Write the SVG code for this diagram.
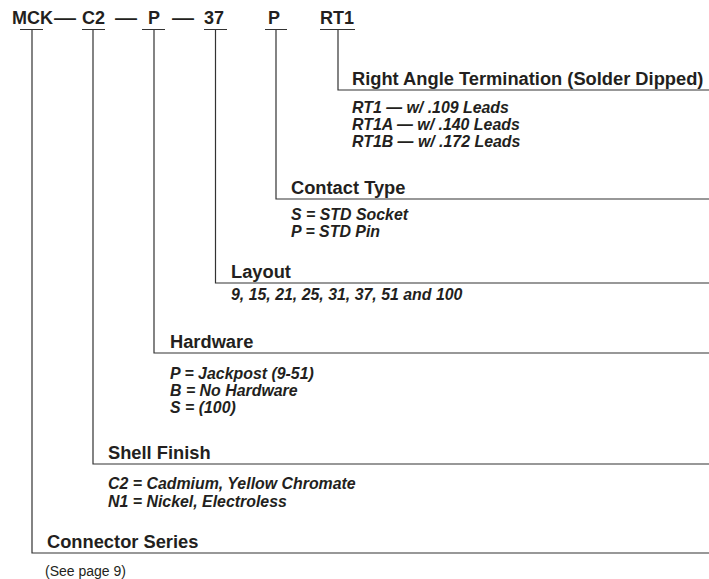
<svg xmlns="http://www.w3.org/2000/svg" width="709" height="579" viewBox="0 0 709 579">
<style>
.hd{font-family:"Liberation Sans",Arial,sans-serif;font-weight:bold;font-size:18px;fill:#231f20}
.tt{font-family:"Liberation Sans",Arial,sans-serif;font-weight:bold;font-size:18.3px;fill:#231f20}
.it{font-family:"Liberation Sans",Arial,sans-serif;font-weight:bold;font-style:italic;font-size:15.9px;fill:#231f20}
.rg{font-family:"Liberation Sans",Arial,sans-serif;font-size:14px;fill:#231f20}
.ln{fill:none;stroke:#333333;stroke-width:1.2}
</style>
<rect width="709" height="579" fill="#ffffff"/>
<g id="header">
<text class="hd" x="12" y="24">MCK</text>
<text class="hd" x="54" y="24" textLength="22" lengthAdjust="spacingAndGlyphs">—</text>
<text class="hd" x="82" y="24">C2</text>
<text class="hd" x="115" y="24" textLength="22" lengthAdjust="spacingAndGlyphs">—</text>
<text class="hd" x="148" y="24">P</text>
<text class="hd" x="172" y="24" textLength="22" lengthAdjust="spacingAndGlyphs">—</text>
<text class="hd" x="204" y="24">37</text>
<text class="hd" x="268" y="24">P</text>
<text class="hd" x="320" y="24">RT1</text>
</g>
<g id="connectors">
<path class="ln" d="M20,29.5H43M32,29.5V553H709"/>
<path class="ln" d="M82,29.5H105M93,29.5V464H709"/>
<path class="ln" d="M142,29.5H165M154,29.5V353H709"/>
<path class="ln" d="M204,29.5H227M215.5,29.5V283H709"/>
<path class="ln" d="M265,29.5H287M276,29.5V199H709"/>
<path class="ln" d="M320,29.5H355M338,29.5V90H709"/>
</g>
<g id="termination">
<text class="tt" x="352" y="85">Right Angle Termination (Solder Dipped)</text>
<text class="it" x="352" y="113">RT1 — w/ .109 Leads</text>
<text class="it" x="352" y="130">RT1A — w/ .140 Leads</text>
<text class="it" x="352" y="147">RT1B — w/ .172 Leads</text>
</g>
<g id="contact-type">
<text class="tt" x="291" y="194">Contact Type</text>
<text class="it" x="291" y="220">S = STD Socket</text>
<text class="it" x="291" y="237">P = STD Pin</text>
</g>
<g id="layout">
<text class="tt" x="231" y="278">Layout</text>
<text class="it" x="231" y="300">9, 15, 21, 25, 31, 37, 51 and 100</text>
</g>
<g id="hardware">
<text class="tt" x="170" y="348">Hardware</text>
<text class="it" x="170" y="379">P = Jackpost (9-51)</text>
<text class="it" x="170" y="396">B = No Hardware</text>
<text class="it" x="170" y="413">S = (100)</text>
</g>
<g id="shell-finish">
<text class="tt" x="108" y="459">Shell Finish</text>
<text class="it" x="108" y="489">C2 = Cadmium, Yellow Chromate</text>
<text class="it" x="108" y="507">N1 = Nickel, Electroless</text>
</g>
<g id="connector-series">
<text class="tt" x="47" y="548">Connector Series</text>
<text class="rg" x="45" y="576">(See page 9)</text>
</g>
</svg>
